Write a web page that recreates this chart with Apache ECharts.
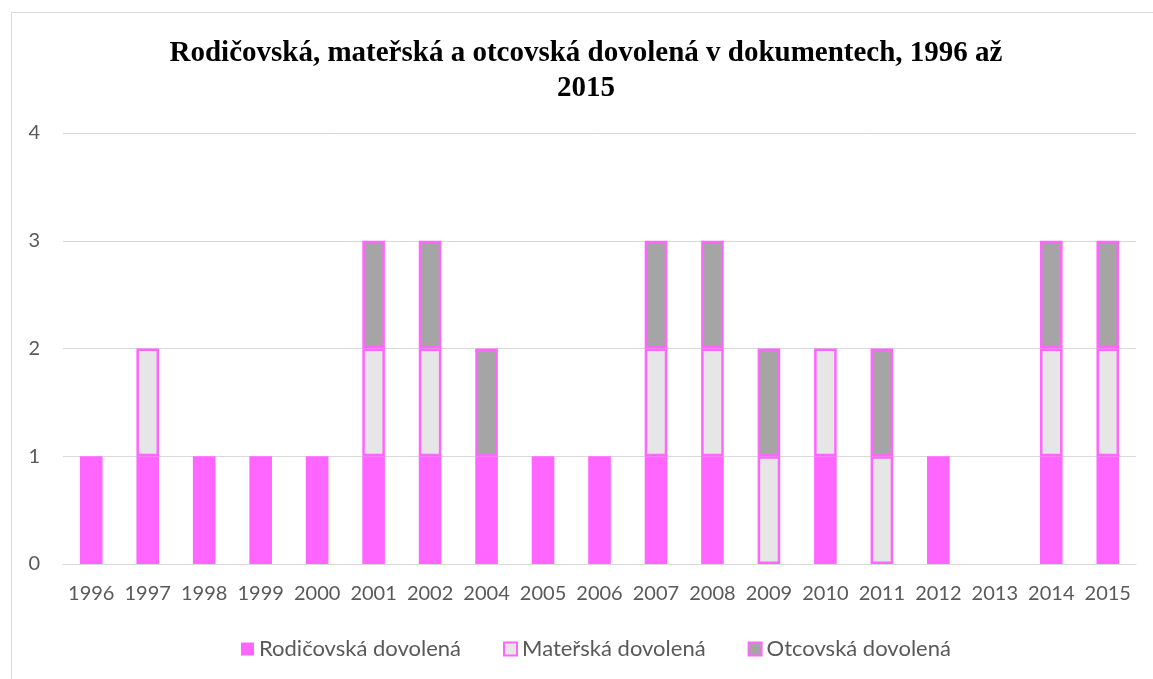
<!DOCTYPE html>
<html>
<head>
<meta charset="utf-8">
<script src="https://cdn.jsdelivr.net/npm/echarts@6/dist/echarts.min.js"></script>
<style>
  html, body { margin: 0; padding: 0; background: #fff; }
  #chart { width: 1153px; height: 679px; }
</style>
</head>
<body>
<div id="chart"></div>
<script>
// roky (2003 v datech chybí)
const years = ['1996', '1997', '1998', '1999', '2000', '2001', '2002', '2004', '2005', '2006',
  '2007', '2008', '2009', '2010', '2011', '2012', '2013', '2014', '2015'];
// '-' = v daném roce nic
const rodicovska = [1, 1, 1, 1, 1, 1, 1, 1, 1, 1, 1, 1, '-', 1, '-', 1, '-', 1, 1];
const materska = ['-', 1, '-', '-', '-', 1, 1, '-', '-', '-', 1, 1, 1, 1, 1, '-', '-', 1, 1];
const otcovska = ['-', '-', '-', '-', '-', 1, 1, 1, '-', '-', 1, 1, 1, '-', 1, '-', '-', 1, 1];
const yTicks = [0, 1, 2, 3, 4];

const pink = '#ff66ff';
const textColor = '#595959';
const gridColor = '#d9d9d9';
const labelFont = 'Lato';

const chart = echarts.init(document.getElementById('chart'));
chart.setOption({
  animation: false,
  graphic: [{
    type: 'rect',
    shape: { x: 11.5, y: 12.5, width: 1400, height: 900 },
    style: { fill: 'none', stroke: gridColor, lineWidth: 1 },
    silent: true
  }],
  title: {
    text: 'Rodičovská, mateřská a otcovská dovolená v dokumentech, 1996 až\n2015',
    left: 581,
    top: 31,
    textAlign: 'center',
    textStyle: {
      fontFamily: 'Liberation Serif',
      fontWeight: 'bold',
      fontSize: 29,
      lineHeight: 35,
      color: '#000'
    }
  },
  legend: {
    bottom: 14,
    left: 236,
    itemWidth: 13,
    itemHeight: 13,
    itemGap: 42,
    icon: 'rect',
    textStyle: { fontFamily: labelFont, fontSize: 22, color: textColor },
    data: ['Rodičovská dovolená', 'Mateřská dovolená', 'Otcovská dovolená']
  },
  grid: { left: 63, right: 17, top: 133, bottom: 115 },
  xAxis: {
    type: 'category',
    data: years,
    axisLine: { lineStyle: { color: gridColor, width: 1 } },
    axisTick: { show: false },
    axisLabel: { fontFamily: labelFont, fontSize: 20, color: textColor, margin: 20, interval: 0 }
  },
  yAxis: {
    type: 'value',
    min: yTicks[0],
    max: yTicks[yTicks.length - 1],
    interval: 1,
    axisLine: { show: false },
    axisTick: { show: false },
    axisLabel: { fontFamily: labelFont, fontSize: 20, color: textColor, margin: 23 },
    splitLine: { lineStyle: { color: gridColor, width: 1 } }
  },
  series: [
    {
      name: 'Rodičovská dovolená',
      type: 'bar',
      stack: 'total',
      barWidth: '40%',
      data: rodicovska,
      itemStyle: { color: pink }
    },
    {
      name: 'Mateřská dovolená',
      type: 'bar',
      stack: 'total',
      data: materska,
      itemStyle: { color: '#e7e6e6', borderColor: pink, borderWidth: 2.5 }
    },
    {
      name: 'Otcovská dovolená',
      type: 'bar',
      stack: 'total',
      data: otcovska,
      itemStyle: { color: '#a5a5a5', borderColor: pink, borderWidth: 2.5 }
    }
  ]
});
</script>
</body>
</html>
